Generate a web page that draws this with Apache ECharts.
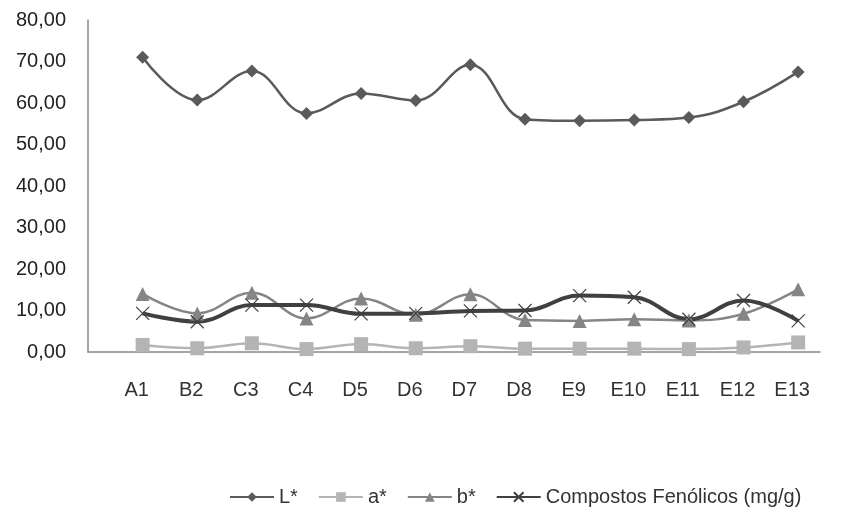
<!DOCTYPE html>
<html>
<head>
<meta charset="utf-8">
<script src="https://cdn.jsdelivr.net/npm/echarts@6/dist/echarts.min.js"></script>
<style>
  html, body { margin: 0; padding: 0; background: #fff; }
  #chart { width: 846px; height: 525px; }
</style>
</head>
<body>
<div id="chart"></div>
<script>
// amostras
var categories = ['A1', 'B2', 'C3', 'C4', 'D5', 'D6', 'D7', 'D8', 'E9', 'E10', 'E11', 'E12', 'E13'];

var valuesL = [71.0, 60.7, 67.7, 57.5, 62.3, 60.6, 69.2, 56.1, 55.7, 55.9, 56.5, 60.3, 67.5];
var valuesA = [1.7, 0.9, 2.1, 0.7, 1.9, 0.9, 1.4, 0.8, 0.8, 0.8, 0.7, 1.1, 2.3];
var valuesB = [14.0, 9.3, 14.3, 8.1, 12.9, 9.0, 13.9, 7.7, 7.5, 7.9, 7.6, 9.2, 15.1];
var valuesFen = [9.3, 7.3, 11.3, 11.3, 9.2, 9.3, 9.9, 10.0, 13.6, 13.2, 7.9, 12.4, 7.5];

var yTicks = [0, 10, 20, 30, 40, 50, 60, 70, 80];

function pairs(arr) {
    return arr.map(function (v, i) { return [i + 1, v]; });
}

var crossPath = 'path://M0,0L10,10M10,0L0,10';

var myChart = echarts.init(document.getElementById('chart'));
var option = {
    textStyle: {
        fontFamily: 'Liberation Sans, Arial, sans-serif'
    },
    animation: false,
    grid: {
        left: 88,
        right: 26,
        top: 20,
        bottom: 173
    },
    legend: {
        top: 482,
        left: 224,
        itemWidth: 44,
        itemHeight: 12,
        itemGap: 20,
        textStyle: { fontSize: 20, color: '#333' },
        data: ['L*', 'a*', 'b*', 'Compostos Fenólicos (mg/g)']
    },
    xAxis: {
        type: 'value',
        min: 0,
        max: 13.4,
        interval: 1,
        axisTick: { show: false },
        splitLine: { show: false },
        axisLine: { lineStyle: { color: '#888', width: 1.5 } },
        axisLabel: {
            fontSize: 20,
            color: '#333',
            margin: 28,
            padding: [0, 12, 0, 0],
            showMaxLabel: false,
            formatter: function (v) {
                return Number.isInteger(v) && v > 0 ? (categories[v - 1] || '') : '';
            }
        }
    },
    yAxis: {
        type: 'value',
        min: yTicks[0],
        max: yTicks[yTicks.length - 1],
        interval: 10,
        axisTick: { show: false },
        splitLine: { show: false },
        axisLine: { show: true, lineStyle: { color: '#888', width: 1.5 } },
        axisLabel: {
            fontSize: 20,
            color: '#222',
            margin: 22,
            formatter: function (v) {
                return v.toFixed(2).replace('.', ',');
            }
        }
    },
    series: [{
        name: 'L*',
        type: 'line',
        smooth: 0.4,
        symbol: 'diamond',
        symbolSize: 13,
        itemStyle: { color: '#5a5a5a' },
        lineStyle: { color: '#5a5a5a', width: 2.5 },
        data: pairs(valuesL)
    }, {
        name: 'a*',
        type: 'line',
        smooth: 0.4,
        symbol: 'rect',
        symbolSize: 14,
        itemStyle: { color: '#b4b4b4' },
        lineStyle: { color: '#b4b4b4', width: 2.5 },
        data: pairs(valuesA)
    }, {
        name: 'b*',
        type: 'line',
        smooth: 0.4,
        symbol: 'triangle',
        symbolSize: 14,
        itemStyle: { color: '#858585' },
        lineStyle: { color: '#858585', width: 2.5 },
        data: pairs(valuesB)
    }, {
        name: 'Compostos Fenólicos (mg/g)',
        type: 'line',
        smooth: 0.4,
        symbol: crossPath,
        symbolSize: 13,
        itemStyle: { color: '#404040', borderColor: '#404040', borderWidth: 1.2 },
        lineStyle: { color: '#404040', width: 4 },
        data: pairs(valuesFen)
    }]
};
myChart.setOption(option);
</script>
</body>
</html>
